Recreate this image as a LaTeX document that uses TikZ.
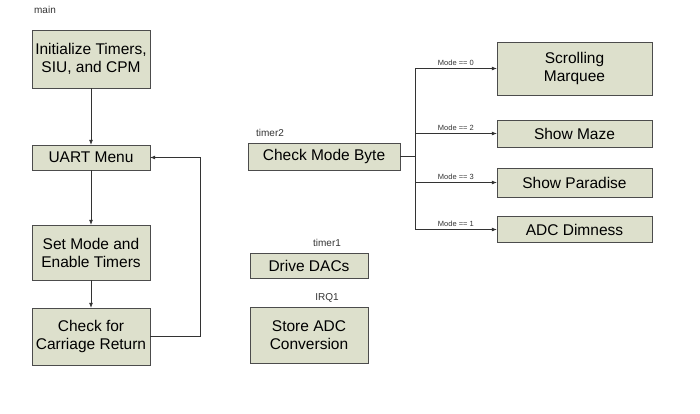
\documentclass[tikz,border=0pt]{standalone}
\usepackage{fontspec}
\setmainfont{Liberation Sans}
\usetikzlibrary{arrows.meta}
\definecolor{boxfill}{RGB}{221,224,204}
\tikzset{
	blk/.style={draw=black!70, fill=boxfill, align=center, inner sep=0pt, font=\fontsize{15.5}{18}\selectfont},
	tag/.style={font=\fontsize{10}{11}\selectfont, text=black!80},
	mode/.style={font=\fontsize{7.5}{8}\selectfont, above=-1pt, text=black!80},
	flow/.style={-{Latex[length=5pt,width=4pt]}, draw=black!80, line width=0.7pt}
}
\begin{document}
\begin{tikzpicture}[x=1pt,y=-1pt]
	\useasboundingbox (0,0) rectangle (700,413);

	% main loop
	\node[tag] (lmain) at (45,10) {main};
	\node[blk, minimum width=118pt, minimum height=58pt] (init) at (91,59) {Initialize Timers,\\SIU, and CPM};
	\node[blk, minimum width=118pt, minimum height=25pt] (uart) at (91,157.5) {UART Menu};
	\node[blk, minimum width=118pt, minimum height=55pt] (setm) at (91,252.5) {Set Mode and\\Enable Timers};
	\node[blk, minimum width=118pt, minimum height=57pt] (chk) at (91,336.5) {Check for\\Carriage Return};
	\draw[flow] (init) -- (uart);
	\draw[flow] (uart) -- (setm);
	\draw[flow] (setm) -- (chk);
	\coordinate (back) at (200,336.5);
	\draw[flow] (chk.east) -- (back) |- (uart.east);

	% timer2
	\node[tag] (lt2) at (270,133) {timer2};
	\node[blk, minimum width=152pt, minimum height=27pt] (cmb) at (324,156.5) {Check Mode Byte};
	\node[blk, minimum width=155pt, minimum height=53pt] (scroll) at (574.5,68.5) {Scrolling\\Marquee};
	\node[blk, minimum width=155pt, minimum height=27pt] (maze) at (574.5,133.5) {Show Maze};
	\node[blk, minimum width=155pt, minimum height=29pt] (para) at (574.5,182.5) {Show Paradise};
	\node[blk, minimum width=155pt, minimum height=26pt] (adc) at (574.5,229.5) {ADC Dimness};
	\coordinate (fork) at (415,156.5);
	\draw[draw=black!80, line width=0.7pt] (cmb.east) -- (fork);
	\foreach \dst/\val in {scroll/0, maze/2, para/3, adc/1}
		\draw[flow] (fork) |- node[mode, pos=0.75] {Mode == \val} (\dst.west);

	% timer1
	\node[tag] (lt1) at (327,243) {timer1};
	\node[blk, minimum width=118pt, minimum height=25pt] (dac) at (309,265.5) {Drive DACs};

	% IRQ1
	\node[tag] (lirq) at (327,298) {IRQ1};
	\node[blk, minimum width=118pt, minimum height=56pt] (store) at (309,335) {Store ADC\\Conversion};
\end{tikzpicture}
\end{document}
